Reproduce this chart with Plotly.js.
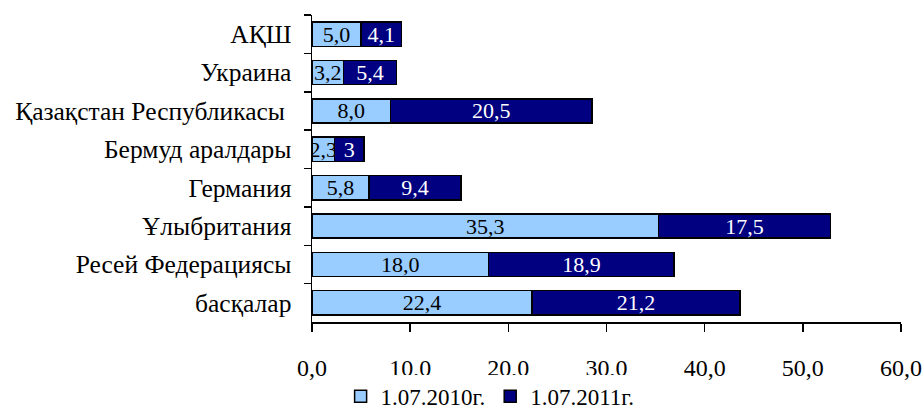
<!DOCTYPE html>
<html><head><meta charset="utf-8">
<script src="https://cdn.plot.ly/plotly-3.0.1.min.js"></script>
<style>html,body{margin:0;padding:0;background:#fff}</style>
</head><body><div id="chart" style="width:923px;height:415px"></div>
<script>
const categories = ['АҚШ', 'Украина', 'Қазақстан Республикасы\u00a0', 'Бермуд аралдары', 'Германия', 'Ұлыбритания', 'Ресей Федерациясы', 'басқалар'];
const values2010 = [5.0, 3.2, 8.0, 2.3, 5.8, 35.3, 18.0, 22.4];
const values2011 = [4.1, 5.4, 20.5, 3, 9.4, 17.5, 18.9, 21.2];
const labels2010 = ['5,0', '3,2', '8,0', '2,3', '5,8', '35,3', '18,0', '22,4'];
const labels2011 = ['4,1', '5,4', '20,5', '3', '9,4', '17,5', '18,9', '21,2'];
const seriesNames = ['1.07.2010г.', '1.07.2011г.'];
const xTickValues = [0, 10, 20, 30, 40, 50, 60];

const FONT = '"Liberation Serif", "Times New Roman", serif';

const traces = [
  {
    type: 'bar', orientation: 'h', name: seriesNames[0],
    y: categories, x: values2010, text: labels2010,
    textposition: 'inside', insidetextanchor: 'middle', textangle: 0,
    textfont: {family: FONT, size: 22, color: '#000000'},
    marker: {color: '#99CCFF', line: {color: '#000000', width: 1.5}},
    hoverinfo: 'none'
  },
  {
    type: 'bar', orientation: 'h', name: seriesNames[1],
    y: categories, x: values2011, text: labels2011,
    textposition: 'inside', insidetextanchor: 'middle', textangle: 0,
    textfont: {family: FONT, size: 22, color: '#FFFFFF'},
    marker: {color: '#000080', line: {color: '#000000', width: 1.5}},
    hoverinfo: 'none'
  }
];

const layout = {
  width: 923, height: 415,
  margin: {l: 312, r: 22, t: 15, b: 93, pad: 0},
  paper_bgcolor: '#ffffff', plot_bgcolor: '#ffffff',
  font: {family: FONT, size: 24, color: '#000000'},
  separators: ', ',
  barmode: 'stack',
  bargap: 0.37,
  uniformtext: {mode: 'show', minsize: 22},
  showlegend: true,
  legend: {
    orientation: 'h', traceorder: 'normal',
    xref: 'container', yref: 'container',
    x: 0.531, xanchor: 'center', y: 0.045, yanchor: 'middle',
    font: {family: FONT, size: 23, color: '#000000'},
    itemwidth: 30
  },
  xaxis: {
    range: [0, 60], tickvals: xTickValues, tickformat: '.1f',
    automargin: false,
    showgrid: false, zeroline: false,
    showline: true, linecolor: '#000000', linewidth: 1.5,
    ticks: 'outside', ticklen: 8, tickwidth: 1.5, tickcolor: '#000000',
    ticklabelstandoff: 16,
    tickfont: {family: FONT, size: 24, color: '#000000'}
  },
  yaxis: {
    type: 'category', categoryorder: 'array', categoryarray: categories,
    autorange: 'reversed', automargin: false,
    showgrid: false, zeroline: false,
    showline: true, linecolor: '#000000', linewidth: 1.5,
    ticks: 'outside', tickson: 'boundaries', ticklen: 7, tickwidth: 1.5, tickcolor: '#000000',
    ticklabelstandoff: 14,
    tickfont: {family: FONT, size: 25.5, color: '#000000'}
  }
};

Plotly.newPlot('chart', traces, layout, {displayModeBar: false, staticPlot: true});
</script>
</body></html>
